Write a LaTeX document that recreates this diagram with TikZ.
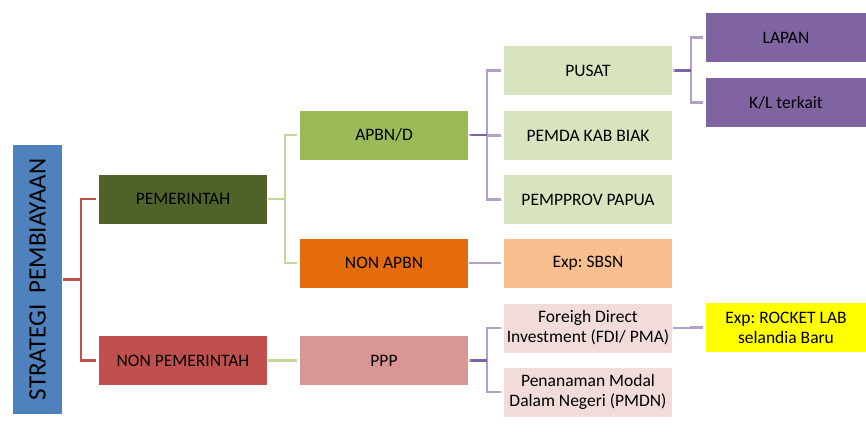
\documentclass[tikz,border=0pt]{standalone}
\usepackage{fontspec}
\setmainfont{Carlito}
\usepackage{graphicx}
\frenchspacing
\definecolor{blue1}{RGB}{79, 129, 189}
\definecolor{olive1}{RGB}{79, 98, 40}
\definecolor{red1}{RGB}{192, 80, 77}
\definecolor{green1}{RGB}{155, 187, 89}
\definecolor{green2}{RGB}{215, 228, 189}
\definecolor{orange1}{RGB}{228, 108, 10}
\definecolor{orange2}{RGB}{250, 191, 143}
\definecolor{pink1}{RGB}{217, 150, 148}
\definecolor{pink2}{RGB}{242, 220, 219}
\definecolor{purple1}{RGB}{128, 100, 162}
\definecolor{purple2}{RGB}{178, 161, 199}
\definecolor{yellow1}{RGB}{255, 255, 0}
\definecolor{lgreen}{RGB}{195, 214, 155}

\begin{document}
\begin{tikzpicture}[x=1pt, y=-1pt, line width=2.4pt,
  box/.style={rectangle, minimum width=168pt, minimum height=49pt, inner sep=1pt,
    align=center, font=\fontsize{17.5}{20}\selectfont},
  tipbox/.style={box, minimum width=160pt},
  link/.style={shorten >=2pt}]
\useasboundingbox (0,0) rectangle (866,432);
  \node[rectangle, fill=blue1, minimum width=49pt, minimum height=269pt, inner sep=0pt,
    font=\fontsize{25}{28}\selectfont] (root) at (37.5,279.5)
    {\rotatebox{90}{STRATEGI\ \ PEMBIAYAAN}};

  \node[box, fill=olive1] (pem) at (183,199) {PEMERINTAH};
  \node[box, fill=red1] (nonpem) at (183,360.5) {NON PEMERINTAH};

  \node[box, fill=green1] (apbn) at (384,135) {APBN/D};
  \node[box, fill=orange1] (nonapbn) at (384,263) {NON APBN};
  \node[box, fill=pink1] (ppp) at (384,360.5) {PPP};

  \node[box, fill=green2] (pusat) at (588,70.5) {PUSAT};
  \node[box, fill=green2] (pemda) at (588,135.5) {PEMDA KAB BIAK};
  \node[box, fill=green2] (pemprov) at (588,199.5) {PEMPPROV PAPUA};
  \node[box, fill=orange2] (sbsn) at (588,263) {Exp: SBSN};
  \node[box, fill=pink2] (fdi) at (588,328) {Foreigh Direct\\Investment (FDI/ PMA)};
  \node[box, fill=pink2] (pmdn) at (588,392) {Penanaman Modal\\Dalam Negeri (PMDN)};

  \node[tipbox, fill=purple1] (lapan) at (786,37.5) {LAPAN};
  \node[tipbox, fill=purple1] (kl) at (786,102.5) {K/L terkait};
  \node[tipbox, fill=yellow1] (rocket) at (786,327.5) {Exp: ROCKET LAB\\selandia Baru};

  \foreach \from/\to in {root/pem, root/nonpem}
   \draw[link, red1] (\from.east) -- ++(18,0) |- (\to.west);
  \foreach \from/\to in {pem/apbn, pem/nonapbn, nonpem/ppp}
   \draw[link, lgreen] (\from.east) -- ++(17,0) |- (\to.west);
  \foreach \from/\to in {apbn/pusat, apbn/pemda, apbn/pemprov, nonapbn/sbsn,
                         ppp/fdi, ppp/pmdn, pusat/lapan, pusat/kl, fdi/rocket}
   \draw[link, purple2] (\from.east) -- ++(18,0) |- (\to.west);
  % darker stubs out of the branching boxes
  \foreach \from in {apbn, ppp, pusat}
   \draw[purple1] ([xshift=2pt]\from.east) -- ++(16,0);
\end{tikzpicture}
\end{document}
